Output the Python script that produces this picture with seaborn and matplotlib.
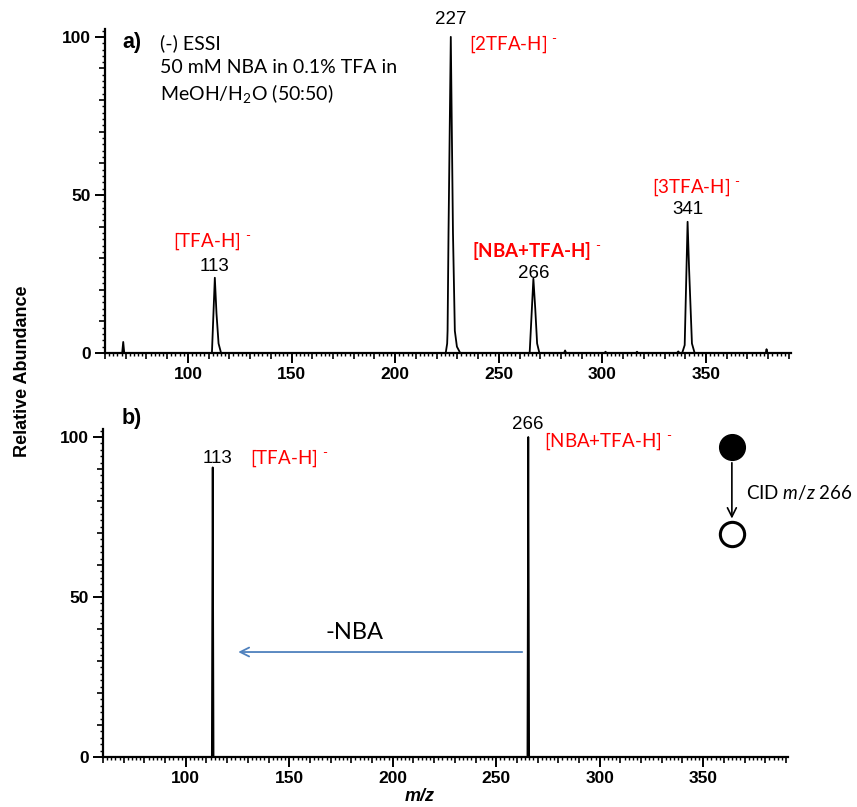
import matplotlib
matplotlib.use("Agg")
import matplotlib.pyplot as plt
import seaborn as sns
import pandas as pd
from matplotlib.ticker import MultipleLocator, FuncFormatter

# ---------------- data ----------------
# panel a: profile spectrum, m/z and relative abundance (%)
mz_a = [60.0, 68.3, 68.8, 69.3,
        111.6, 113.0, 113.8, 114.8, 116.0,
        224.4, 225.1, 225.3, 225.75, 226.85, 227.9, 228.8, 229.8, 231.4,
        264.9, 266.7, 267.6, 268.5, 269.6,
        281.5, 282.0, 282.5,
        301.0, 301.5, 302.0,
        316.2, 316.7, 317.2,
        336.0, 336.6, 337.2,
        338.5, 339.7, 341.1, 341.8, 343.2, 344.5,
        378.8, 379.2, 379.6,
        391.0]
ab_a = [0, 0, 3.5, 0,
        0, 23.8, 12.5, 3, 0,
        0, 3, 7, 38, 100, 38, 7, 2, 0,
        0, 23.5, 14, 3, 0,
        0, 0.8, 0,
        0, 0.4, 0,
        0, 0.4, 0,
        0, 0.5, 0,
        0, 2.5, 41.5, 27, 3, 0,
        0, 1.2, 0,
        0]

# panel b: CID product spectrum of m/z 266
mz_b = [60.0, 112.6, 113.0, 113.4, 265.1, 265.5, 265.9, 391.0]
ab_b = [0, 0, 90.5, 0, 0, 100, 0, 0]

peak_labels_a = ["113", "227", "266", "341"]
ion_labels_a = ["[TFA-H]", "[2TFA-H]", "[NBA+TFA-H]", "[3TFA-H]"]
peak_labels_b = ["113", "266"]
ion_labels_b = ["[TFA-H]", "[NBA+TFA-H]"]
x_ticks = [100, 150, 200, 250, 300, 350]
y_ticks = [0, 50, 100]

df_a = pd.DataFrame({"mz": mz_a, "ab": ab_a})
df_b = pd.DataFrame({"mz": mz_b, "ab": ab_b})

# ---------------- style ----------------
sns.set_style("ticks")
plt.rcParams["font.family"] = ["Liberation Sans", "DejaVu Sans"]
plt.rcParams["mathtext.fontset"] = "custom"
plt.rcParams["mathtext.rm"] = "Lato"
plt.rcParams["mathtext.it"] = "Lato:italic"
plt.rcParams["mathtext.bf"] = "Lato:bold"
for k in ("text.color", "axes.labelcolor", "xtick.color", "ytick.color",
          "axes.edgecolor"):
    plt.rcParams[k] = "black"

fig = plt.figure(figsize=(8.57, 8.07), dpi=100)
ax_a = fig.add_axes([0.1225, 0.5626, 0.8005, 0.4015])
ax_b = fig.add_axes([0.1202, 0.0620, 0.7993, 0.4064])

RED = "#ff0000"
CAL = ["Lato", "DejaVu Sans"]
SUP = r" $^{\text{-}}$"

for ax, df in ((ax_a, df_a), (ax_b, df_b)):
    sns.lineplot(data=df, x="mz", y="ab", ax=ax, color="black",
                 linewidth=1.3, estimator=None, sort=False)
    ax.set_xlim(60, 391)
    ax.set_ylim(0, 102.5)
    ax.set_xlabel("")
    ax.set_ylabel("")
    for s in ("top", "right"):
        ax.spines[s].set_visible(False)
    for s in ("left", "bottom"):
        ax.spines[s].set_linewidth(1.6)
        ax.spines[s].set_color("black")
    ax.xaxis.set_major_locator(MultipleLocator(10))
    ax.xaxis.set_minor_locator(MultipleLocator(2))
    ax.yaxis.set_major_locator(MultipleLocator(10))
    ax.yaxis.set_minor_locator(MultipleLocator(2))
    ax.xaxis.set_major_formatter(FuncFormatter(
        lambda v, p: f"{v:.0f}" if round(v) in x_ticks else ""))
    ax.yaxis.set_major_formatter(FuncFormatter(
        lambda v, p: f"{v:.0f}" if round(v) in y_ticks else ""))
    ax.tick_params(axis="both", which="major", direction="out", length=7,
                   width=1.4, labelsize=12.5, pad=3, colors="black")
    ax.tick_params(axis="both", which="minor", direction="out", length=2.2,
                   width=1.0, colors="black")
    for lab in ax.get_xticklabels() + ax.get_yticklabels():
        lab.set_fontweight("bold")

# ---------------- panel a annotations ----------------
num_kw = dict(fontsize=13.5, ha="center", va="center", color="black")
ax_a.text(113.0, 27.5, peak_labels_a[0], **num_kw)
ax_a.text(226.8, 105.5, peak_labels_a[1], clip_on=False, **num_kw)
ax_a.text(267.0, 25.3, peak_labels_a[2], **num_kw)
ax_a.text(341.2, 45.3, peak_labels_a[3], **num_kw)

ion_kw = dict(fontsize=13.5, color=RED, va="center", family=CAL)
ax_a.text(111.5, 35.4, ion_labels_a[0] + SUP, ha="center", **ion_kw)
ax_a.text(235.4, 97.8, ion_labels_a[1] + SUP, ha="left", **ion_kw)
ax_a.text(237.3, 32.3, ion_labels_a[2] + SUP, ha="left",
          fontweight="bold", **ion_kw)
ax_a.text(323.8, 52.5, ion_labels_a[3] + SUP, ha="left", **ion_kw)

ax_a.text(0.026, 0.957, "a)", transform=ax_a.transAxes, fontsize=15.5,
          fontweight="bold", va="center", ha="left")
txt_kw = dict(transform=ax_a.transAxes, fontsize=14, va="center",
              ha="left", family=CAL, color="black")
ax_a.text(0.080, 0.957, "(-) ESSI", **txt_kw)
ax_a.text(0.080, 0.880, "50 mM NBA in 0.1% TFA in", **txt_kw)
ax_a.text(0.080, 0.802, r"MeOH/H$_2$O (50:50)", **txt_kw)

# ---------------- panel b annotations ----------------
ax_b.text(115.4, 93.4, peak_labels_b[0], **num_kw)
ax_b.text(265.4, 104.0, peak_labels_b[1], clip_on=False, **num_kw)
ax_b.text(130.8, 93.4, ion_labels_b[0] + SUP, ha="left", **ion_kw)
ax_b.text(273.0, 98.8, ion_labels_b[1] + SUP, ha="left", **ion_kw)

ax_b.text(167.3, 39.0, "-NBA", fontsize=17, family=CAL, ha="left",
          va="center", color="black")
ax_b.annotate("", xy=(124.0, 32.8), xytext=(263.9, 32.8),
              arrowprops=dict(arrowstyle="->", color="#4f81bd", lw=1.3,
                              mutation_scale=16))

fig.text(0.142, 0.481, "b)", fontsize=15.5, fontweight="bold", va="center",
         ha="left")

# CID scheme
fig.lines.append(plt.Line2D([0.854], [0.446], marker="o", markersize=18.5,
                            color="black", transform=fig.transFigure))
fig.lines.append(plt.Line2D([0.854], [0.338], marker="o", markersize=17.5,
                            markerfacecolor="white", markeredgecolor="black",
                            markeredgewidth=2.2, transform=fig.transFigure))
fig.add_artist(matplotlib.patches.FancyArrowPatch(
    (0.854, 0.430), (0.854, 0.354), transform=fig.transFigure,
    arrowstyle="->", mutation_scale=16, color="black", lw=1.2))
fig.text(0.870, 0.390, r"CID $\mathit{m/z}$ 266", fontsize=13.5,
         family=CAL, va="center", ha="left")

fig.text(0.490, 0.0124, "m/z", fontsize=13, fontweight="bold",
         style="italic", ha="center", va="center")
fig.text(0.0257, 0.540, "Relative Abundance", fontsize=13,
         fontweight="bold", rotation=90, ha="center", va="center")

# medium/major tick lengths
fig.canvas.draw()
for ax in (ax_a, ax_b):
    for t in ax.xaxis.get_major_ticks():
        if round(t.get_loc()) not in x_ticks:
            t.tick1line.set_markersize(4)
            t.tick1line.set_markeredgewidth(1.2)
    for t in ax.yaxis.get_major_ticks():
        if round(t.get_loc()) not in y_ticks:
            t.tick1line.set_markersize(4)
            t.tick1line.set_markeredgewidth(1.2)

fig.savefig("out.png", dpi=100)
